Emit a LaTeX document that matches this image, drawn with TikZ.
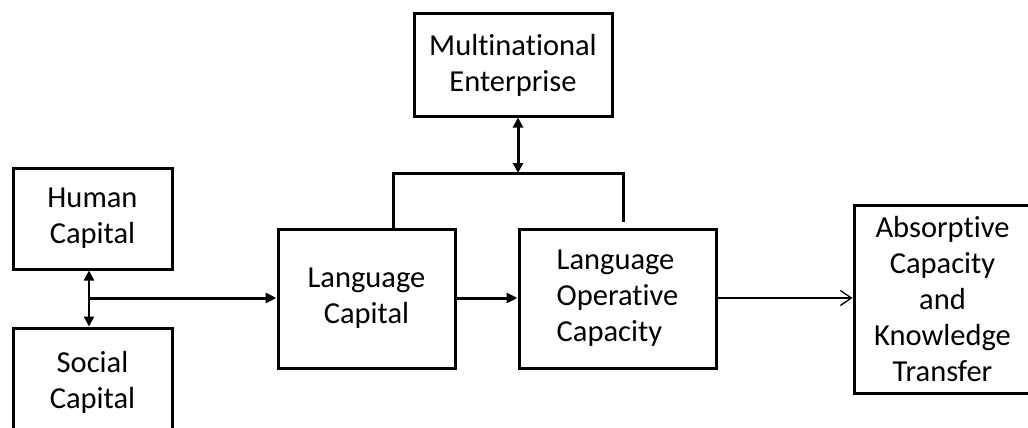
\documentclass[tikz,border=0pt]{standalone}
\usepackage{fontspec}
\setmainfont{Carlito}[Ligatures=NoCommon]
\usetikzlibrary{arrows.meta}
\begin{document}
\begin{tikzpicture}[x=1pt,y=-1pt,
  box/.style={draw, line width=3pt, inner sep=0pt, align=center,
    font=\fontsize{30.5}{36}\selectfont},
  link/.style={line width=3pt},
  headend/.style={-{Triangle[length=11pt,width=10pt]}},
  headboth/.style={{Triangle[length=10pt,width=10pt]}-{Triangle[length=10pt,width=10pt]}},
  thinlink/.style={line width=1.3pt, -{Straight Barb[length=11pt,width=15pt,line width=1.3pt]}}
]
\useasboundingbox (0,0) rectangle (1028,428);
\clip (0,0) rectangle (1028,428);

% boxes
\node[box, minimum width=159pt, minimum height=101pt] (human) at (92.5,218.5) {Human\\Capital};
\node[box, minimum width=159pt, minimum height=109pt] (social) at (92.5,382.5) {Social\\Capital};
\node[box, minimum width=198pt, minimum height=102pt] (mne) at (513,65) {Multinational\\Enterprise};
\node[box, minimum width=177pt, minimum height=139pt] (lc) at (366.5,298.5) {Language\\Capital};
\node[box, minimum width=197pt, minimum height=139pt, align=left] (loc) at (617.5,298.5) {Language\\Operative\\Capacity};
\node[box, minimum width=177pt, minimum height=188pt] (ackt) at (942.5,299) {Absorptive\\Capacity\\and\\Knowledge\\Transfer};

% junction between human and social capital
\coordinate (j) at (89,298);
\draw[line width=2.2pt, headboth] (human.south -| j) -- (social.north -| j);
\draw[link, headend] (j) -- (j -| lc.west);
\draw[link, headend] (lc.east |- j) -- (loc.west |- j);
\draw[thinlink] (loc.east |- j) -- (ackt.west |- j);

% bracket from the enterprise to both language boxes
\coordinate (b) at (518,173);
\coordinate (bl) at (393,231);
\coordinate (br) at (623,222);
\draw[link, headboth] (mne.south -| b) -- (b);
\draw[link] (bl) -- (bl |- b) -- (br |- b) -- (br);
\end{tikzpicture}
\end{document}
